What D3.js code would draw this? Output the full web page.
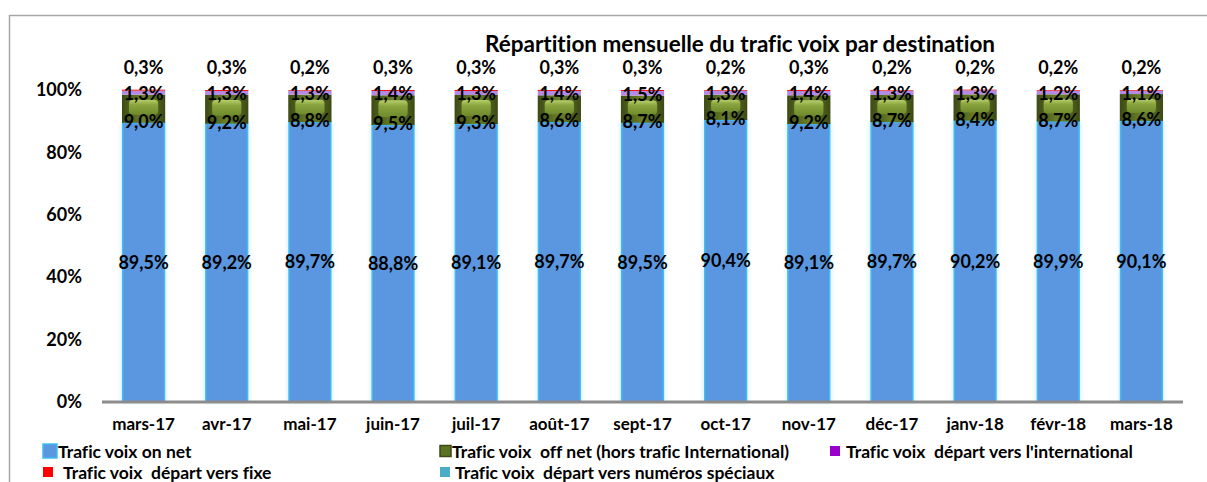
<!DOCTYPE html>
<html>
<head>
<meta charset="utf-8">
<script src="https://d3js.org/d3.v7.min.js"></script>
<style>
body { margin: 0; background: #fff; }
text { font-family: Lato, "Liberation Sans", sans-serif; font-weight: bold; fill: #000; font-variant-ligatures: none; }
</style>
</head>
<body>
<div id="chart"></div>
<script>
// monthly voice traffic split (%)
var months = ["mars-17","avr-17","mai-17","juin-17","juil-17","août-17","sept-17","oct-17","nov-17","déc-17","janv-18","févr-18","mars-18"];
var onNet = [89.5,89.2,89.7,88.8,89.1,89.7,89.5,90.4,89.1,89.7,90.2,89.9,90.1];
var offNet = [9.0,9.2,8.8,9.5,9.3,8.6,8.7,8.1,9.2,8.7,8.4,8.7,8.6];
var intl = [1.3,1.3,1.3,1.4,1.3,1.4,1.5,1.3,1.4,1.3,1.3,1.2,1.1];
var fixe = [0.3,0.3,0.2,0.3,0.3,0.3,0.3,0.2,0.3,0.2,0.2,0.2,0.2];
var speciaux = [0,0,0,0,0,0,0,0,0,0,0,0,0];
var yTicks = [0,20,40,60,80,100];
var seriesNames = ["Trafic voix on net","Trafic voix  off net (hors trafic International)","Trafic voix  départ vers l'international","Trafic voix  départ vers fixe","Trafic voix  départ vers numéros spéciaux"];

var W = 1207, H = 482;
var fmt = function(v){ return d3.format(".1f")(v).replace(".", ",") + "%"; };

var rows = months.map(function(m, i){
  return {month: m, onNet: onNet[i], offNet: offNet[i], intl: intl[i], fixe: fixe[i], speciaux: speciaux[i]};
});
var keys = ["onNet","offNet","intl","fixe","speciaux"];
var stacked = d3.stack().keys(keys)(rows);

var svg = d3.select("#chart").append("svg").attr("width", W).attr("height", H);

// chart frame
svg.append("path").attr("d", "M9.5,482 V15.5 H1207").attr("fill", "none").attr("stroke", "#a6a6a6").attr("stroke-width", 1.5);

var defs = svg.append("defs");
var g1 = defs.append("linearGradient").attr("id", "greenOuter").attr("x1", 0).attr("x2", 1).attr("y1", 0).attr("y2", 0);
g1.append("stop").attr("offset", "0%").attr("stop-color", "#3c4a14");
g1.append("stop").attr("offset", "50%").attr("stop-color", "#6b8128");
g1.append("stop").attr("offset", "100%").attr("stop-color", "#3c4a14");
var g2 = defs.append("linearGradient").attr("id", "greenInner").attr("x1", 0).attr("x2", 0).attr("y1", 0).attr("y2", 1);
g2.append("stop").attr("offset", "0%").attr("stop-color", "#b6cf6a");
g2.append("stop").attr("offset", "35%").attr("stop-color", "#8aa43e");
g2.append("stop").attr("offset", "100%").attr("stop-color", "#6e8a2c");
var blur = defs.append("filter").attr("id", "glow").attr("x", "-30%").attr("y", "-5%").attr("width", "160%").attr("height", "110%");
blur.append("feGaussianBlur").attr("stdDeviation", 2);

var x = d3.scaleBand().domain(months).range([102, 1183]).paddingInner(0.48).paddingOuter(0.24);
var y = d3.scaleLinear().domain([0, 100]).range([402, 90]);

var plot = svg.append("g");

// on net
stacked[0].forEach(function(d){
  plot.append("rect").attr("x", x(d.data.month) - 1).attr("width", x.bandwidth() + 2)
    .attr("y", y(d[1])).attr("height", y(d[0]) - y(d[1]))
    .attr("fill", "#d8eefb").attr("filter", "url(#glow)");
  plot.append("rect").attr("x", x(d.data.month) + 0.75).attr("width", x.bandwidth() - 1.5)
    .attr("y", y(d[1])).attr("height", y(d[0]) - y(d[1]))
    .attr("fill", "#5b97e0").attr("stroke", "#3dbdf2").attr("stroke-width", 1.5);
});
// off net (bevelled)
stacked[1].forEach(function(d){
  var h = y(d[0]) - y(d[1]);
  plot.append("rect").attr("x", x(d.data.month)).attr("width", x.bandwidth())
    .attr("y", y(d[1])).attr("height", h).attr("fill", "url(#greenOuter)");
  plot.append("rect").attr("x", x(d.data.month) + 7).attr("width", x.bandwidth() - 14)
    .attr("y", y(d[1]) + 5).attr("height", Math.max(0, h - 13)).attr("rx", 4)
    .attr("fill", "url(#greenInner)");
});
// international, fixe, spéciaux
var flatColors = ["#b48be4", "#ff0000", "#4bacc6"];
[2, 3, 4].forEach(function(k, j){
  stacked[k].forEach(function(d){
    plot.append("rect").attr("x", x(d.data.month)).attr("width", x.bandwidth())
      .attr("y", y(d[1])).attr("height", Math.max(0, y(d[0]) - y(d[1])))
      .attr("fill", flatColors[j]);
  });
});

// x axis line
svg.append("line").attr("x1", 102).attr("x2", 1183).attr("y1", y(0)).attr("y2", y(0))
  .attr("stroke", "#8c8c8c").attr("stroke-width", 3);

// axes (labels only)
var yAxis = svg.append("g").attr("transform", "translate(88,0)")
  .call(d3.axisLeft(y).tickValues(yTicks).tickSize(0).tickPadding(6).tickFormat(function(v){ return v + "%"; }));
yAxis.select(".domain").remove();
yAxis.selectAll("text").style("font-size", "18px").style("font-family", "Lato, sans-serif").style("font-weight", "bold");

var xAxis = svg.append("g").attr("transform", "translate(0," + y(0) + ")")
  .call(d3.axisBottom(x).tickSize(0).tickPadding(16));
xAxis.select(".domain").remove();
xAxis.selectAll("text").style("font-size", "17px").style("font-family", "Lato, sans-serif").style("font-weight", "bold");

// data labels
var lab = svg.append("g").attr("text-anchor", "middle").style("font-size", "18px");
stacked[0].forEach(function(d){
  lab.append("text").attr("x", x(d.data.month) + x.bandwidth() / 2).attr("y", (y(d[0]) + y(d[1])) / 2).attr("dy", "0.35em").text(fmt(d.data.onNet));
});
stacked[1].forEach(function(d){
  lab.append("text").attr("x", x(d.data.month) + x.bandwidth() / 2).attr("y", y(d[0]) - 1).attr("dy", "0.35em").text(fmt(d.data.offNet));
});
stacked[2].forEach(function(d){
  lab.append("text").attr("x", x(d.data.month) + x.bandwidth() / 2).attr("y", (y(d[0]) + y(d[1])) / 2 + 1).attr("dy", "0.35em").text(fmt(d.data.intl));
});
stacked[3].forEach(function(d){
  lab.append("text").attr("x", x(d.data.month) + x.bandwidth() / 2).attr("y", y(100) - 22).attr("dy", "0.35em").text(fmt(d.data.fixe));
});

// title
svg.append("text").attr("x", 740).attr("y", 52).attr("text-anchor", "middle").style("font-size", "22.5px")
  .text("Répartition mensuelle du trafic voix par destination");

// legend
var legend = [
  {name: seriesNames[0], y: 452, mx: 43, mw: 14, fill: "#5b97e0", stroke: "#3dbdf2", tx: 58},
  {name: seriesNames[1], y: 452, mx: 440, mw: 11, fill: "#5a7223", stroke: "#3c4a14", tx: 452},
  {name: seriesNames[2], y: 452, mx: 830, mw: 10, fill: "#9900cc", stroke: "none", tx: 846},
  {name: seriesNames[3], y: 473, mx: 43, mw: 10, fill: "#ff0000", stroke: "none", tx: 63},
  {name: seriesNames[4], y: 473, mx: 440, mw: 10, fill: "#4bacc6", stroke: "none", tx: 455}
];
var lg = svg.append("g").style("font-size", "17.5px");
legend.forEach(function(l){
  lg.append("rect").attr("x", l.mx).attr("y", l.y - l.mw / 2 - 1).attr("width", l.mw).attr("height", l.mw)
    .attr("fill", l.fill).attr("stroke", l.stroke).attr("stroke-width", l.stroke === "none" ? 0 : 1.5);
  lg.append("text").attr("x", l.tx).attr("y", l.y).attr("dy", "0.35em").style("white-space", "pre").text(l.name);
});
</script>
</body>
</html>
